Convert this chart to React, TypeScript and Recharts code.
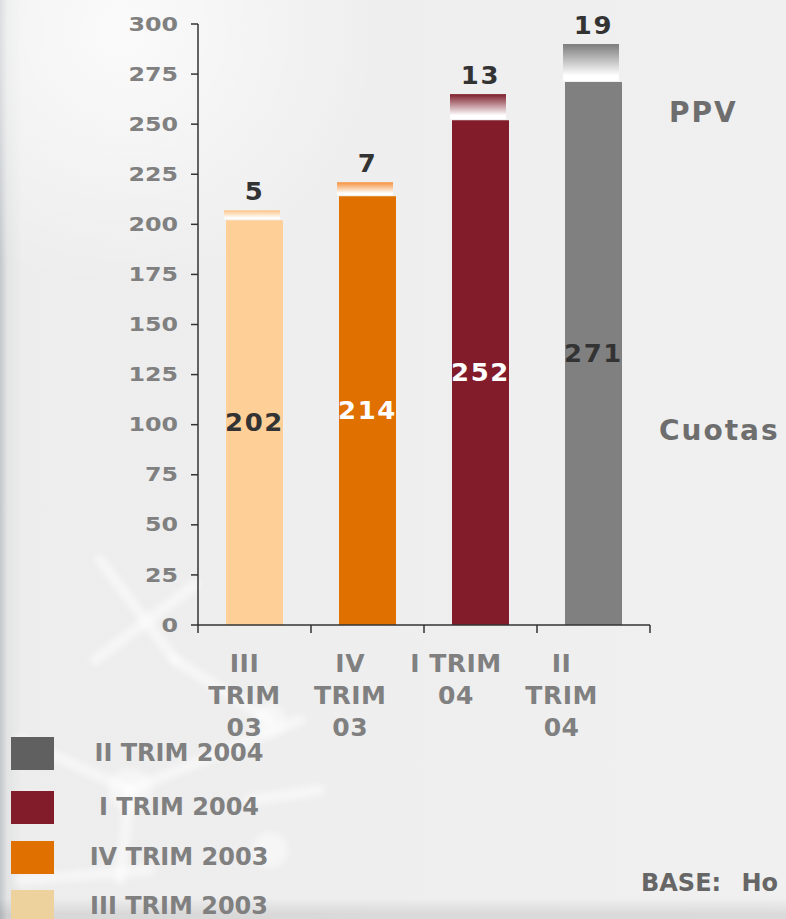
import React from "react";
import { BarChart, Bar, XAxis, YAxis, Cell, LabelList } from "recharts";

// quarters on the x axis (line breaks as in the original labels)
const categories = ["III\nTRIM\n03", "IV\nTRIM\n03", "I TRIM\n04", "II\nTRIM\n04"];
const cuotas = [202, 214, 252, 271];
const ppv = [5, 7, 13, 19];
const yTicks = [0, 25, 50, 75, 100, 125, 150, 175, 200, 225, 250, 275, 300];

const barColors = ["#FFCF98", "#E07000", "#821B2A", "#808080"];
const ppvTopColors = ["#FFC488", "#F5923C", "#7E1E2C", "#7C7C7C"];
const cuotasLabelColors = ["#333333", "#FFFFFF", "#FFFFFF", "#333333"];

const legendLabels = ["II TRIM 2004", "I TRIM 2004", "IV TRIM 2003", "III TRIM 2003"];
const legendColors = ["#606060", "#821B2A", "#E07000", "#EDD29E"];

const W = 786;
const H = 919;
const PLOT_LEFT = 198;
const PLOT_RIGHT = 650;
const PLOT_TOP = 24;
const PLOT_BOTTOM = 625;
const Y_AXIS_W = 100;
const X_AXIS_H = 130;
const FONT = "'DejaVu Sans', Verdana, sans-serif";

const data = categories.map((name, i) => ({ name, cuotas: cuotas[i], ppv: ppv[i] }));

function XTick(props: any) {
    const { x, payload, index } = props;
    const half = payload?.offset ?? (PLOT_RIGHT - PLOT_LEFT) / categories.length / 2;
    const lines = String(payload.value).split("\n");
    const dx = -10 - 7.3 * index;
    return (
        <g>
            <line x1={x - half} x2={x - half} y1={PLOT_BOTTOM} y2={PLOT_BOTTOM + 8} stroke="#333" strokeWidth={1.5} />
            {index === categories.length - 1 && (
                <line x1={x + half} x2={x + half} y1={PLOT_BOTTOM} y2={PLOT_BOTTOM + 8} stroke="#333" strokeWidth={1.5} />
            )}
            {lines.map((l, k) => (
                <text
                    key={k}
                    x={x + dx}
                    y={PLOT_BOTTOM + 46.5 + 32 * k}
                    textAnchor="middle"
                    fill="#808080"
                    fontSize={25}
                    fontWeight={700}
                    fontFamily={FONT}
                    letterSpacing={0.5}
                    style={{ whiteSpace: "pre" }}
                >
                    {l}
                </text>
            ))}
        </g>
    );
}

function YTick(props: any) {
    const { x, y, payload } = props;
    return (
        <text
            transform={`translate(${x},${y}) scale(1.25,1)`}
            textAnchor="end"
            dominantBaseline="central"
            fill="#808080"
            fontSize={19}
            fontWeight={700}
            fontFamily={FONT}
        >
            {payload.value}
        </text>
    );
}

function PpvShape(props: any) {
    const { x, y, width, height } = props;
    const i = props.index ?? categories.indexOf(props.payload?.name);
    return (
        <rect
            x={x - 2}
            y={y}
            width={width - 1}
            height={Math.max(height - 1, 0)}
            fill={`url(#ppvGrad${i})`}
        />
    );
}

function valueText(cx: number, cy: number, value: any, fill: string, middle: boolean) {
    return (
        <text
            transform={`translate(${cx},${cy}) scale(1.08,1)`}
            textAnchor="middle"
            dominantBaseline={middle ? "central" : "auto"}
            fill={fill}
            fontSize={24}
            fontWeight={700}
            fontFamily={FONT}
            letterSpacing={1.5}
        >
            {value}
        </text>
    );
}

export default function App() {
    return (
        <div
            style={{
                position: "absolute",
                left: 0,
                top: 0,
                width: W,
                height: H,
                overflow: "hidden",
                fontFamily: FONT,
                background:
                    "radial-gradient(circle at 120px 30px, rgba(255,255,255,0.75), rgba(255,255,255,0) 260px)," +
                    "linear-gradient(to bottom, rgba(0,0,0,0) 898px, rgba(0,0,0,0.09) 914px)," +
                    "linear-gradient(to right, #c3c7cb 0px, #e2e3e4 7px, #ededed 22px, #f0f0f0 100%)",
            }}
        >
            {/* faint molecule pattern behind the chart */}
            <svg width={W} height={H} style={{ position: "absolute", left: 0, top: 0, filter: "blur(3px)" }}>
                <g stroke="#ffffff" strokeOpacity={0.5} strokeWidth={11} fill="none" strokeLinecap="round">
                    <line x1={100} y1={560} x2={175} y2={660} />
                    <line x1={195} y1={585} x2={95} y2={660} />
                    <line x1={175} y1={660} x2={270} y2={720} />
                    <line x1={20} y1={740} x2={130} y2={790} />
                    <line x1={130} y1={790} x2={300} y2={720} />
                    <line x1={130} y1={790} x2={120} y2={880} />
                    <line x1={250} y1={800} x2={320} y2={790} />
                    <line x1={20} y1={880} x2={150} y2={870} />
                </g>
                <g fill="#ffffff" fillOpacity={0.45}>
                    <circle cx={130} cy={790} r={22} />
                    <circle cx={270} cy={720} r={16} />
                    <circle cx={270} cy={850} r={18} />
                </g>
            </svg>

            <div style={{ position: "absolute", left: 0, top: 0 }}>
                <BarChart
                    width={W}
                    height={H}
                    data={data}
                    margin={{
                        top: PLOT_TOP,
                        right: W - PLOT_RIGHT,
                        left: PLOT_LEFT - Y_AXIS_W,
                        bottom: H - PLOT_BOTTOM - X_AXIS_H,
                    }}
                >
                    <defs>
                        {ppvTopColors.map((c, i) => (
                            <linearGradient key={i} id={`ppvGrad${i}`} x1="0" y1="0" x2="0" y2="1">
                                <stop offset="0%" stopColor={c} />
                                <stop offset="85%" stopColor="#ffffff" />
                                <stop offset="100%" stopColor="#ffffff" />
                            </linearGradient>
                        ))}
                    </defs>
                    <XAxis
                        dataKey="name"
                        height={X_AXIS_H}
                        interval={0}
                        tickLine={false}
                        axisLine={{ stroke: "#333", strokeWidth: 1.5 }}
                        tick={<XTick />}
                    />
                    <YAxis
                        width={Y_AXIS_W}
                        domain={[0, 300]}
                        ticks={yTicks}
                        interval={0}
                        tickSize={7}
                        tickMargin={13}
                        axisLine={{ stroke: "#333", strokeWidth: 1.5 }}
                        tickLine={{ stroke: "#333", strokeWidth: 1.5 }}
                        tick={<YTick />}
                    />
                    <Bar dataKey="cuotas" stackId="a" barSize={57} isAnimationActive={false}>
                        {data.map((_, i) => (
                            <Cell key={i} fill={barColors[i]} />
                        ))}
                        <LabelList
                            dataKey="cuotas"
                            content={(p: any) =>
                                valueText(
                                    Number(p.x) + Number(p.width) / 2,
                                    Number(p.y) + Number(p.height) / 2,
                                    p.value,
                                    cuotasLabelColors[p.index ?? cuotas.indexOf(p.value)],
                                    true
                                )
                            }
                        />
                    </Bar>
                    <Bar dataKey="ppv" stackId="a" barSize={57} shape={<PpvShape />} isAnimationActive={false}>
                        <LabelList
                            dataKey="ppv"
                            content={(p: any) =>
                                valueText(Number(p.x) + Number(p.width) / 2, Number(p.y) - 10, p.value, "#333333", false)
                            }
                        />
                    </Bar>
                </BarChart>
            </div>

            {/* series names on the right */}
            <div style={{ position: "absolute", left: 669, top: 96, fontSize: 28, fontWeight: 700, color: "#6e6e6e", letterSpacing: 2 }}>
                PPV
            </div>
            <div style={{ position: "absolute", left: 659, top: 414, fontSize: 28, fontWeight: 700, color: "#6e6e6e", letterSpacing: 2 }}>
                Cuotas
            </div>

            {/* legend */}
            {legendLabels.map((label, i) => {
                const tops = [737, 791, 841, 890];
                return (
                    <div key={label} style={{ position: "absolute", left: 0, top: tops[i], width: 300, height: 33 }}>
                        <div style={{ position: "absolute", left: 11, top: 0, width: 43, height: 33, background: legendColors[i] }} />
                        <div
                            style={{
                                position: "absolute",
                                left: 60,
                                width: 238,
                                top: 0,
                                height: 33,
                                lineHeight: "33px",
                                textAlign: "center",
                                fontSize: 24,
                                fontWeight: 700,
                                color: "#808080",
                                whiteSpace: "nowrap",
                            }}
                        >
                            {label}
                        </div>
                    </div>
                );
            })}

            <div
                style={{
                    position: "absolute",
                    left: 641,
                    top: 869,
                    fontSize: 24,
                    fontWeight: 700,
                    color: "#666666",
                    whiteSpace: "nowrap",
                    wordSpacing: 12,
                }}
            >
                BASE: Ho
            </div>
        </div>
    );
}
